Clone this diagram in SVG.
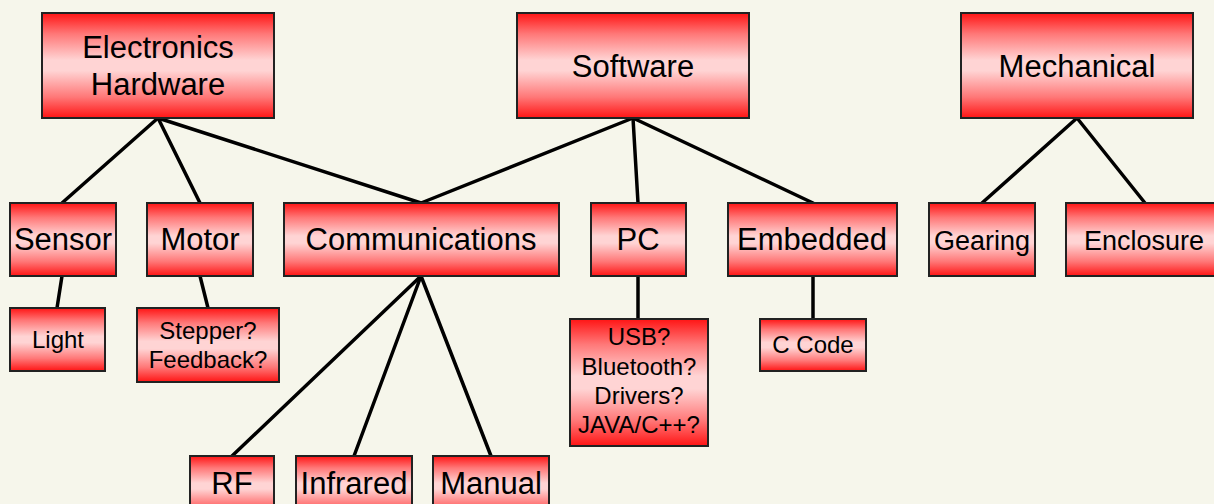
<svg xmlns="http://www.w3.org/2000/svg" width="1214" height="504" viewBox="0 0 1214 504">
<defs>
<linearGradient id="g" x1="0" y1="0" x2="0" y2="1">
<stop offset="0" stop-color="#ff1414"/>
<stop offset="0.2" stop-color="#ff7878"/>
<stop offset="0.45" stop-color="#ffd4d4"/>
<stop offset="0.55" stop-color="#ffd4d4"/>
<stop offset="0.8" stop-color="#ff7878"/>
<stop offset="1" stop-color="#ff1414"/>
</linearGradient>
</defs>
<style>
.b{fill:url(#g);stroke:#222;stroke-width:2}
.t{font-family:"Liberation Sans",Arial,sans-serif;fill:#000;text-anchor:middle}
.l{font-size:31px}
.m{font-size:27px}
.s{font-size:24px}
.c line{stroke:#000;stroke-width:3.5;stroke-linecap:round}
</style>
<rect width="1214" height="504" fill="#f6f6eb"/>
<g class="c" id="connectors">
<line x1="158" y1="118" x2="62" y2="203"/>
<line x1="158" y1="118" x2="200" y2="203"/>
<line x1="158" y1="118" x2="421" y2="203"/>
<line x1="633" y1="118" x2="421" y2="203"/>
<line x1="633" y1="118" x2="638" y2="203"/>
<line x1="633" y1="118" x2="813" y2="203"/>
<line x1="1077" y1="118" x2="982" y2="203"/>
<line x1="1077" y1="118" x2="1145" y2="203"/>
<line x1="62" y1="276" x2="57" y2="308"/>
<line x1="200" y1="276" x2="208" y2="308"/>
<line x1="421" y1="276" x2="232" y2="456"/>
<line x1="421" y1="276" x2="354" y2="456"/>
<line x1="421" y1="276" x2="491" y2="456"/>
<line x1="638" y1="276" x2="638" y2="319"/>
<line x1="813" y1="276" x2="813" y2="319"/>
</g>
<g id="electronics"><rect class="b" x="42" y="13" width="232" height="105"/><text class="t l" x="158" y="58">Electronics</text><text class="t l" x="158" y="95">Hardware</text></g>
<g id="software"><rect class="b" x="517" y="13" width="232" height="105"/><text class="t l" x="633" y="77">Software</text></g>
<g id="mechanical"><rect class="b" x="961" y="13" width="232" height="105"/><text class="t l" x="1077" y="77">Mechanical</text></g>
<g id="sensor"><rect class="b" x="10" y="203" width="106" height="73"/><text class="t l" x="63" y="250">Sensor</text></g>
<g id="motor"><rect class="b" x="147" y="203" width="106" height="73"/><text class="t l" x="200" y="250">Motor</text></g>
<g id="communications"><rect class="b" x="284" y="203" width="275" height="73"/><text class="t l" x="421" y="250">Communications</text></g>
<g id="pc"><rect class="b" x="591" y="203" width="95" height="73"/><text class="t l" x="638" y="250">PC</text></g>
<g id="embedded"><rect class="b" x="728" y="203" width="169" height="73"/><text class="t l" x="812" y="250">Embedded</text></g>
<g id="gearing"><rect class="b" x="929" y="203" width="106" height="73"/><text class="t m" x="982" y="250">Gearing</text></g>
<g id="enclosure"><rect class="b" x="1066" y="203" width="152" height="73"/><text class="t m" x="1144" y="250">Enclosure</text></g>
<g id="light"><rect class="b" x="10" y="308" width="95" height="63"/><text class="t s" x="58" y="348">Light</text></g>
<g id="stepper"><rect class="b" x="137" y="308" width="142" height="74"/><text class="t s" x="208" y="339">Stepper?</text><text class="t s" x="208" y="368">Feedback?</text></g>
<g id="usb"><rect class="b" x="570" y="319" width="138" height="127"/><text class="t s" x="639" y="345">USB?</text><text class="t s" x="639" y="375">Bluetooth?</text><text class="t s" x="639" y="404">Drivers?</text><text class="t s" x="639" y="433">JAVA/C++?</text></g>
<g id="ccode"><rect class="b" x="760" y="319" width="106" height="52"/><text class="t s" x="813" y="353">C Code</text></g>
<g id="rf"><rect class="b" x="190" y="456" width="84" height="60"/><text class="t l" x="232" y="494">RF</text></g>
<g id="infrared"><rect class="b" x="296" y="456" width="116" height="60"/><text class="t l" x="354" y="494">Infrared</text></g>
<g id="manual"><rect class="b" x="433" y="456" width="116" height="60"/><text class="t l" x="491" y="494">Manual</text></g>
</svg>
